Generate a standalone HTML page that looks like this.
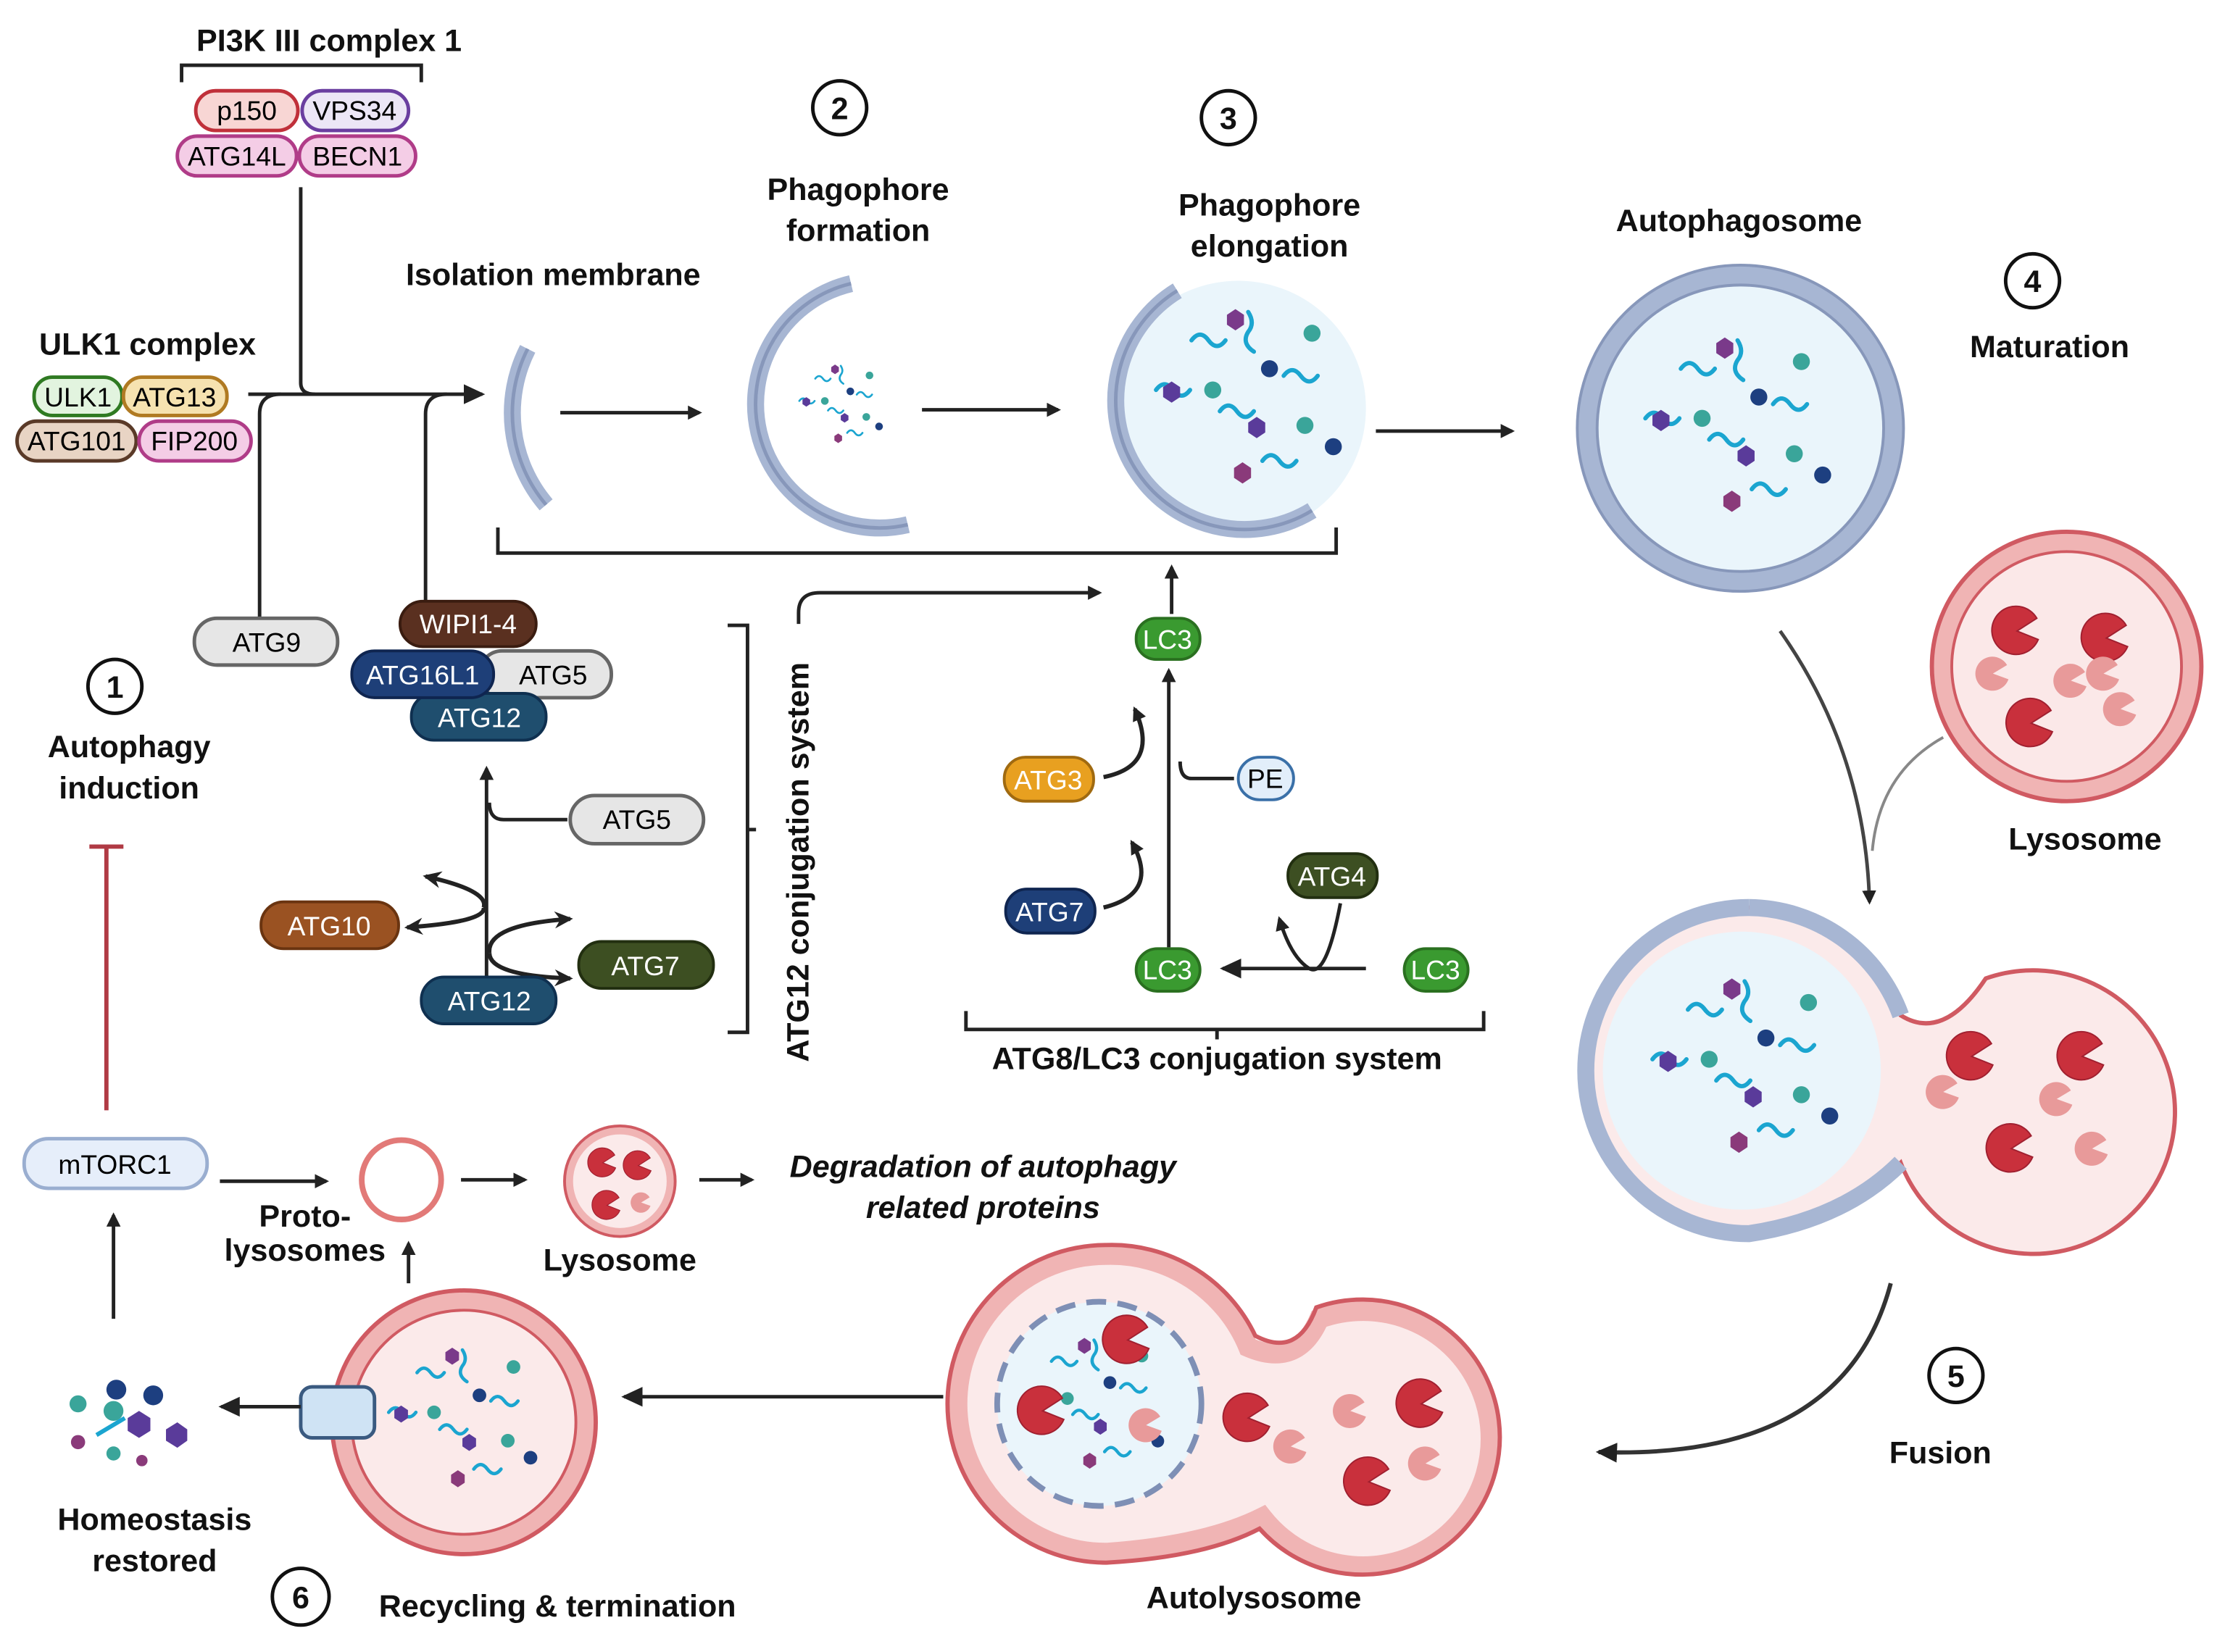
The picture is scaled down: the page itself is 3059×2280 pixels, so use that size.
<!DOCTYPE html>
<html><head><meta charset="utf-8"><style>
html,body{margin:0;padding:0;background:#fff;width:3059px;height:2280px;overflow:hidden}
svg{display:block}
text{font-family:"Liberation Sans",sans-serif}
.b{font-weight:bold;font-size:22px;fill:#111;text-anchor:middle}
.p{font-size:19px;text-anchor:middle;dominant-baseline:central}
.ln{fill:none;stroke:#222;stroke-width:2.5}
</style></head><body>
<svg width="3059" height="2280" viewBox="0 0 1563 1165" xmlns="http://www.w3.org/2000/svg">
<defs>
<marker id="ar" markerWidth="10" markerHeight="10" refX="8" refY="5" orient="auto" markerUnits="userSpaceOnUse"><path d="M0,0 L10,5 L0,10 z" fill="#222"/></marker>
<marker id="ar2" markerWidth="16" markerHeight="16" refX="13" refY="8" orient="auto" markerUnits="userSpaceOnUse"><path d="M0,1 L15,8 L0,15 z" fill="#222"/></marker>
<marker id="ar3" markerWidth="14" markerHeight="14" refX="11" refY="7" orient="auto" markerUnits="userSpaceOnUse"><path d="M0,1 L13,7 L0,13 L4,7 z" fill="#222"/></marker>
<g id="pac"><path d="M0,0 L14,-9 A17,17 0 1 0 15,6 Z" fill="#c9303c" stroke="#a02030" stroke-width="1"/></g>
<g id="pacs"><path d="M0,0 L10,-6 A12,12 0 1 0 11,4 Z" fill="#e89a9a"/></g>
<g id="cargo">
<path d="M-45,-40 q6,-8 12,0 q6,8 12,0" class="sq"/>
<path d="M-25,10 q6,-8 12,0 q6,8 12,0" class="sq"/>
<path d="M20,-15 q6,-8 12,0 q6,8 12,0" class="sq"/>
<path d="M5,45 q6,-8 12,0 q6,8 12,0" class="sq"/>
<path d="M-70,-5 q6,-8 12,0 q6,8 12,0" class="sq"/>
<path d="M-5,-60 q5,8 0,14 q-5,8 4,14" class="sq"/>
<circle cx="-30" cy="-5" r="6" fill="#3aa59a"/><circle cx="40" cy="-45" r="6" fill="#3aa59a"/><circle cx="35" cy="20" r="6" fill="#3aa59a"/>
<circle cx="10" cy="-20" r="6" fill="#1d3f80"/><circle cx="55" cy="35" r="6" fill="#1d3f80"/>
<polygon points="-65,-7 -59,-11 -53,-7 -53,0 -59,4 -65,0" fill="#5a3b9a"/>
<polygon points="-20,-58 -14,-62 -8,-58 -8,-51 -14,-47 -20,-51" fill="#7a3a8a"/>
<polygon points="-5,18 1,14 7,18 7,25 1,29 -5,25" fill="#5a3b9a"/>
<polygon points="-15,50 -9,46 -3,50 -3,57 -9,61 -15,57" fill="#8a3a7a"/>
</g>
<style>.sq{fill:none;stroke:#1ba5d0;stroke-width:3;stroke-linecap:round}</style>
</defs>

<!-- PI3K -->
<text x="232" y="36" class="b">PI3K III complex 1</text>
<path d="M128,58 V46 H297 V58" class="ln"/>
<rect x="138" y="64" width="72" height="28" rx="14" fill="#f8d6d4" stroke="#c0303a" stroke-width="2.5"/><text x="174" y="78" class="p">p150</text>
<rect x="213" y="64" width="75" height="28" rx="14" fill="#ece6f6" stroke="#6a3ea0" stroke-width="2.5"/><text x="250" y="78" class="p">VPS34</text>
<rect x="125" y="96" width="84" height="28" rx="14" fill="#f4cde6" stroke="#b03c88" stroke-width="2.5"/><text x="167" y="110" class="p">ATG14L</text>
<rect x="211" y="96" width="82" height="28" rx="14" fill="#f4cde6" stroke="#b03c88" stroke-width="2.5"/><text x="252" y="110" class="p">BECN1</text>
<!-- ULK1 -->
<text x="104" y="250" class="b">ULK1 complex</text>
<rect x="24" y="266" width="62" height="27" rx="13" fill="#e2f4df" stroke="#2f7a22" stroke-width="2.5"/><text x="55" y="280" class="p">ULK1</text>
<rect x="87" y="266" width="73" height="27" rx="13" fill="#f6e2b0" stroke="#b07a22" stroke-width="2.5"/><text x="123" y="280" class="p">ATG13</text>
<rect x="12" y="297" width="84" height="28" rx="14" fill="#e8d4c4" stroke="#5a3a28" stroke-width="2.5"/><text x="54" y="311" class="p">ATG101</text>
<rect x="98" y="297" width="79" height="28" rx="14" fill="#f4cde6" stroke="#b03c88" stroke-width="2.5"/><text x="137" y="311" class="p">FIP200</text>
<path d="M212,132 V270 q0,8 10,8" class="ln"/>
<path d="M175,278 H340" class="ln" stroke-width="3" marker-end="url(#ar2)"/>
<path d="M183,436 V292 q0,-14 15,-14" class="ln"/>
<path d="M300,426 V292 q0,-14 15,-14" class="ln"/>

<!-- Isolation membrane -->
<text x="390" y="201" class="b">Isolation  membrane</text>
<path d="M372,246 A100,100 0 0 0 385,356" fill="none" stroke="#a7b6d3" stroke-width="12"/>
<path d="M372,246 A100,100 0 0 0 385,356" fill="none" stroke="#8797ba" stroke-width="2.5"/>
<path d="M395,291 H493" class="ln" stroke-width="2" marker-end="url(#ar)"/>

<!-- 2 -->
<circle cx="592" cy="76" r="19" fill="#fff" stroke="#111" stroke-width="2.5"/><text x="592" y="84" class="b">2</text>
<text x="605" y="141" class="b">Phagophore</text><text x="605" y="170" class="b">formation</text>
<path d="M600,200 A80,80 0 1 0 640,370" fill="none" stroke="#a7b6d3" stroke-width="12"/>
<path d="M600,200 A80,80 0 1 0 640,370" fill="none" stroke="#8797ba" stroke-width="2.5"/>
<g transform="translate(595,285) scale(0.45)"><use href="#cargo"/></g>
<path d="M650,289 H746" class="ln" stroke-width="2" marker-end="url(#ar)"/>

<!-- 3 -->
<circle cx="866" cy="83" r="19" fill="#fff" stroke="#111" stroke-width="2.5"/><text x="866" y="91" class="b">3</text>
<text x="895" y="152" class="b">Phagophore</text><text x="895" y="181" class="b">elongation</text>
<circle cx="873" cy="288" r="90" fill="#eaf5fb"/>
<path d="M830,205 A88,88 0 1 0 925,360" fill="none" stroke="#a7b6d3" stroke-width="12"/>
<path d="M830,205 A88,88 0 1 0 925,360" fill="none" stroke="#8797ba" stroke-width="2.5"/>
<g transform="translate(885,280)"><use href="#cargo"/></g>
<path d="M970,304 H1066" class="ln" stroke-width="2" marker-end="url(#ar)"/>
<path d="M351,372 V390 H942 V372" class="ln"/>

<!-- Autophagosome -->
<text x="1226" y="163" class="b">Autophagosome</text>
<circle cx="1227" cy="302" r="108" fill="#eaf5fb" stroke="#a7b6d3" stroke-width="14"/>
<circle cx="1227" cy="302" r="115" fill="none" stroke="#8797ba" stroke-width="2"/>
<circle cx="1227" cy="302" r="101" fill="none" stroke="#8797ba" stroke-width="2"/>
<g transform="translate(1230,300)"><use href="#cargo"/></g>
<circle cx="1433" cy="198" r="19" fill="#fff" stroke="#111" stroke-width="2.5"/><text x="1433" y="206" class="b">4</text>
<text x="1445" y="252" class="b">Maturation</text>

<!-- Lysosome big -->
<circle cx="1457" cy="470" r="88" fill="#fbe8e8" stroke="#f0b4b4" stroke-width="14"/>
<circle cx="1457" cy="470" r="95" fill="none" stroke="#d05a62" stroke-width="3"/>
<circle cx="1457" cy="470" r="81" fill="none" stroke="#d05a62" stroke-width="2"/>
<use href="#pac" x="1422" y="445"/><use href="#pac" x="1485" y="450"/><use href="#pac" x="1432" y="510"/><use href="#pacs" x="1495" y="500"/><use href="#pacs" x="1460" y="480"/><use href="#pacs" x="1405" y="475"/><use href="#pacs" x="1483" y="475"/>
<text x="1470" y="599" class="b">Lysosome</text>
<path d="M1255,445 Q1315,530 1318,636" fill="none" stroke="#444" stroke-width="2.5" marker-end="url(#ar)"/>
<path d="M1370,520 Q1325,545 1320,600" fill="none" stroke="#888" stroke-width="2"/>

<!-- Fused -->
<path d="M1233,640 A115,115 0 0 1 1340,716 Q1370,735 1400,690 A100,100 0 1 1 1340,820 Q1300,860 1233,870 A115,115 0 1 1 1233,640 Z" fill="#fbeaea" stroke="#d05a62" stroke-width="3"/>
<path d="M1233,640 A115,115 0 0 0 1233,870 Q1300,860 1340,820" fill="none" stroke="#a7b6d3" stroke-width="12"/>
<path d="M1233,640 A115,115 0 0 1 1340,716" fill="none" stroke="#a7b6d3" stroke-width="12"/>
<circle cx="1228" cy="755" r="98" fill="#eaf5fb"/>
<g transform="translate(1235,752)"><use href="#cargo"/></g>
<use href="#pac" x="1390" y="745"/><use href="#pac" x="1468" y="745"/><use href="#pac" x="1418" y="810"/><use href="#pacs" x="1475" y="810"/><use href="#pacs" x="1450" y="775"/><use href="#pacs" x="1370" y="770"/>
<circle cx="1379" cy="970" r="19" fill="#fff" stroke="#111" stroke-width="2.5"/><text x="1379" y="978" class="b">5</text>
<text x="1368" y="1032" class="b">Fusion</text>
<path d="M1333,905 Q1300,1030 1127,1024" fill="none" stroke="#333" stroke-width="3" marker-end="url(#ar2)"/>

<!-- Autolysosome -->
<path d="M780,885 A105,105 0 0 1 880,950 Q915,965 930,930 A90,90 0 1 1 890,1070 Q850,1090 780,1095 A105,105 0 1 1 780,885 Z" fill="#fbeaea" stroke="#f0b4b4" stroke-width="14"/>
<path d="M780,878 A112,112 0 0 1 885,942 Q915,958 928,922 A97,97 0 1 1 888,1078 Q850,1098 780,1102 A112,112 0 1 1 780,878 Z" fill="none" stroke="#d05a62" stroke-width="3"/>
<circle cx="775" cy="990" r="72" fill="#eaf5fb" stroke="#7e8fb5" stroke-width="4" stroke-dasharray="14 8"/>
<g transform="translate(775,990) scale(0.75)"><use href="#cargo"/></g>
<use href="#pac" x="795" y="945"/><use href="#pac" x="735" y="995"/><use href="#pac" x="880" y="1000"/><use href="#pac" x="1002" y="990"/><use href="#pac" x="965" y="1045"/><use href="#pacs" x="808" y="1005"/><use href="#pacs" x="952" y="995"/><use href="#pacs" x="910" y="1020"/><use href="#pacs" x="1005" y="1032"/>
<text x="884" y="1134" class="b">Autolysosome</text>
<path d="M665,985 H440" class="ln" stroke-width="3" marker-end="url(#ar2)"/>

<!-- Recycling -->
<circle cx="327" cy="1003" r="86" fill="#fbeaea" stroke="#f0b4b4" stroke-width="13"/>
<circle cx="327" cy="1003" r="93" fill="none" stroke="#d05a62" stroke-width="3"/>
<circle cx="327" cy="1003" r="79" fill="none" stroke="#d05a62" stroke-width="2"/>
<g transform="translate(330,1000) scale(0.8)"><use href="#cargo"/></g>
<rect x="212" y="978" width="52" height="36" rx="8" fill="#cfe3f4" stroke="#3a5a80" stroke-width="2.5"/>
<path d="M212,992 H156" class="ln" stroke-width="3" marker-end="url(#ar2)"/>
<g>
<circle cx="82" cy="980" r="7" fill="#1d3f80"/><circle cx="108" cy="984" r="7" fill="#1d3f80"/><circle cx="55" cy="990" r="6" fill="#3aa59a"/><circle cx="80" cy="995" r="7" fill="#3aa59a"/>
<polygon points="90,1000 98,995 106,1000 106,1009 98,1014 90,1009" fill="#5a3b9a"/><polygon points="117,1008 125,1003 132,1008 132,1016 125,1021 117,1016" fill="#5a3b9a"/>
<circle cx="55" cy="1017" r="5" fill="#8a3a7a"/><circle cx="80" cy="1025" r="5" fill="#3aa59a"/><circle cx="100" cy="1030" r="4" fill="#8a3a7a"/>
<path d="M68,1012 L88,1000" stroke="#1ba5d0" stroke-width="3"/>
</g>
<text x="109" y="1079" class="b">Homeostasis</text><text x="109" y="1108" class="b">restored</text>
<circle cx="212" cy="1126" r="20" fill="#fff" stroke="#111" stroke-width="2.5"/><text x="212" y="1134" class="b">6</text>
<text x="393" y="1140" class="b">Recycling &amp; termination</text>

<!-- mTORC1 -->
<rect x="17" y="803" width="129" height="35" rx="17" fill="#e6eefa" stroke="#9aaed0" stroke-width="2.5"/><text x="81" y="821" class="p">mTORC1</text>
<path d="M80,930 V857" class="ln" marker-end="url(#ar)"/>
<path d="M75,783 V597 M63,597 H87" stroke="#b03a44" stroke-width="3"/>
<circle cx="81" cy="484" r="19" fill="#fff" stroke="#111" stroke-width="2.5"/><text x="81" y="492" class="b">1</text>
<text x="91" y="534" class="b">Autophagy</text><text x="91" y="563" class="b">induction</text>
<path d="M155,833 H230" class="ln" marker-end="url(#ar)"/>
<circle cx="283" cy="832" r="28" fill="#fff" stroke="#e27a78" stroke-width="4"/>
<text x="215" y="865" class="b">Proto-</text><text x="215" y="889" class="b">lysosomes</text>
<path d="M288,905 V877" class="ln" marker-end="url(#ar)"/>
<path d="M325,832 H370" class="ln" stroke-width="3" marker-end="url(#ar)"/>
<circle cx="437" cy="833" r="36" fill="#fbeaea" stroke="#f0b4b4" stroke-width="6"/>
<circle cx="437" cy="833" r="39" fill="none" stroke="#d05a62" stroke-width="2"/>
<g><use href="#pac" x="425" y="820" transform="translate(425,820) scale(0.6) translate(-425,-820)"/><use href="#pac" x="450" y="822" transform="translate(450,822) scale(0.6) translate(-450,-822)"/><use href="#pac" x="428" y="850" transform="translate(428,850) scale(0.6) translate(-428,-850)"/><use href="#pacs" x="452" y="848" transform="translate(452,848) scale(0.6) translate(-452,-848)"/></g>
<text x="437" y="896" class="b">Lysosome</text>
<path d="M493,832 H530" class="ln" stroke-width="3" marker-end="url(#ar)"/>
<text x="693" y="830" class="b" font-style="italic">Degradation of autophagy</text>
<text x="693" y="859" class="b" font-style="italic">related proteins</text>

<!-- ATG12 system -->
<rect x="137" y="436" width="101" height="33" rx="16" fill="#e6e6e6" stroke="#666" stroke-width="2.5"/><text x="188" y="453" class="p">ATG9</text>
<rect x="282" y="424" width="96" height="32" rx="16" fill="#5a3020" stroke="#3a1c10" stroke-width="2"/><text x="330" y="440" class="p" fill="#fff">WIPI1-4</text>
<rect x="338" y="459" width="93" height="33" rx="16" fill="#e6e6e6" stroke="#666" stroke-width="2.5"/><text x="390" y="476" class="p">ATG5</text>
<rect x="290" y="489" width="95" height="33" rx="16" fill="#1f4e6e" stroke="#0f3050" stroke-width="2"/><text x="338" y="506" class="p" fill="#fff">ATG12</text>
<rect x="248" y="459" width="100" height="33" rx="16" fill="#1e3f78" stroke="#0f2550" stroke-width="2"/><text x="298" y="476" class="p" fill="#fff">ATG16L1</text>
<path d="M343,710 V542" class="ln" stroke-width="2" marker-end="url(#ar)"/>
<path d="M400,578 H355 q-10,0 -10,-12" class="ln"/>
<rect x="402" y="561" width="94" height="34" rx="17" fill="#e6e6e6" stroke="#666" stroke-width="2.5"/><text x="449" y="578" class="p">ATG5</text>
<path d="M341,640 Q345,628 300,618" fill="none" stroke="#222" stroke-width="3" marker-end="url(#ar3)"/>
<path d="M341,640 Q343,650 287,654" fill="none" stroke="#222" stroke-width="3" marker-end="url(#ar3)"/>
<path d="M345,672 Q343,652 402,648" fill="none" stroke="#222" stroke-width="3" marker-end="url(#ar3)"/>
<path d="M345,672 Q345,688 402,690" fill="none" stroke="#222" stroke-width="3" marker-end="url(#ar3)"/>
<rect x="184" y="636" width="97" height="33" rx="16" fill="#9a5222" stroke="#6a3410" stroke-width="2"/><text x="232" y="653" class="p" fill="#fff">ATG10</text>
<rect x="408" y="664" width="95" height="33" rx="16" fill="#3d4f22" stroke="#222f10" stroke-width="2"/><text x="455" y="681" class="p" fill="#fff">ATG7</text>
<rect x="297" y="689" width="95" height="33" rx="16" fill="#1f4e6e" stroke="#0f3050" stroke-width="2"/><text x="345" y="706" class="p" fill="#fff">ATG12</text>
<path d="M513,441 H527 V728 H513 M527,585 H533" class="ln"/>
<text transform="translate(570,608) rotate(-90)" class="b">ATG12 conjugation system</text>
<path d="M563,440 V432 q0,-14 15,-14 H775" class="ln" stroke-width="2" marker-end="url(#ar)"/>

<!-- LC3 system -->
<path d="M826,433 V400" class="ln" marker-end="url(#ar)"/>
<rect x="801" y="436" width="45" height="29" rx="14" fill="#3a9a30" stroke="#2a7020" stroke-width="2"/><text x="823" y="451" class="p" fill="#fff">LC3</text>
<path d="M824,668 V473" class="ln" stroke-width="2" marker-end="url(#ar)"/>
<path d="M778,548 Q818,540 800,500" fill="none" stroke="#222" stroke-width="3" marker-end="url(#ar)"/>
<path d="M778,640 Q818,630 798,594" fill="none" stroke="#222" stroke-width="3" marker-end="url(#ar)"/>
<path d="M870,549 H840 q-8,0 -8,-12" class="ln"/>
<rect x="708" y="534" width="63" height="31" rx="15" fill="#e8a020" stroke="#a06a10" stroke-width="2"/><text x="739" y="550" class="p" fill="#fff">ATG3</text>
<rect x="873" y="534" width="39" height="30" rx="15" fill="#e2eefa" stroke="#3a70a8" stroke-width="2"/><text x="892" y="549" class="p">PE</text>
<rect x="709" y="627" width="63" height="31" rx="15" fill="#1e3f78" stroke="#0f2550" stroke-width="2"/><text x="740" y="643" class="p" fill="#fff">ATG7</text>
<rect x="908" y="602" width="63" height="31" rx="15" fill="#3d4f22" stroke="#222f10" stroke-width="2"/><text x="939" y="618" class="p" fill="#fff">ATG4</text>
<path d="M963,683 H862" class="ln" stroke-width="3.5" marker-end="url(#ar2)"/>
<path d="M945,637 Q935,690 923,683 Q910,675 902,648" fill="none" stroke="#222" stroke-width="2.5" marker-end="url(#ar)"/>
<rect x="801" y="669" width="45" height="30" rx="15" fill="#3a9a30" stroke="#2a7020" stroke-width="2"/><text x="823" y="684" class="p" fill="#fff">LC3</text>
<rect x="990" y="669" width="45" height="30" rx="15" fill="#3a9a30" stroke="#2a7020" stroke-width="2"/><text x="1012" y="684" class="p" fill="#fff">LC3</text>
<path d="M681,713 V726 H1046 V713 M858,726 V733" class="ln"/>
<text x="858" y="754" class="b">ATG8/LC3 conjugation system</text>
</svg>
</body></html>
